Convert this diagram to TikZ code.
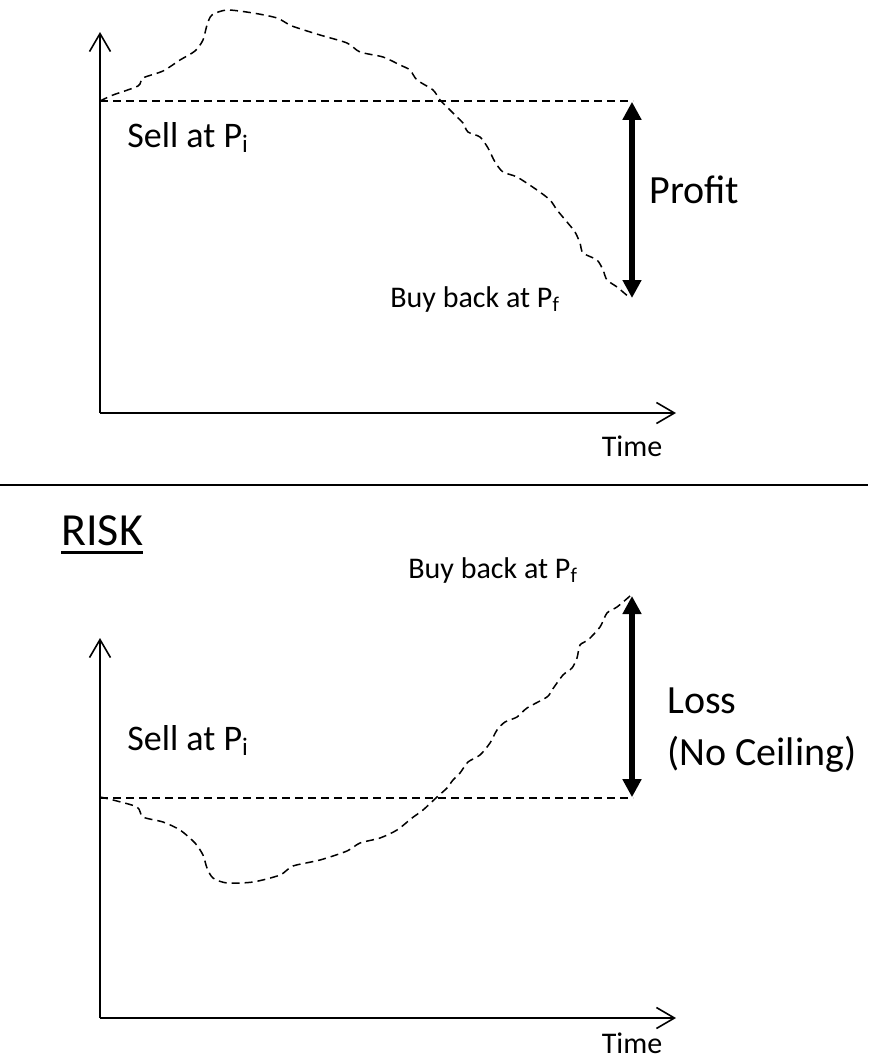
\documentclass[tikz,border=0pt]{standalone}
\usepackage{fontspec}
\setmainfont{Carlito}
\usetikzlibrary{arrows.meta,positioning}

\begin{document}
\begin{tikzpicture}[x=0.5pt, y=-0.5pt,
    axis/.style={line width=1pt, -{Straight Barb[length=9pt,width=10.5pt,line width=0.8pt]}},
    level/.style={dash pattern=on 4pt off 2.5pt, line width=0.75pt},
    price/.style={level, line join=round},
    swing/.style={line width=3pt, {Triangle[length=9pt,width=9pt]}-{Triangle[length=9pt,width=9pt]}},
    lbl/.style={inner sep=0pt, anchor=base west},
    big/.style={lbl, font=\fontsize{18}{22}\selectfont},
    small/.style={lbl, font=\fontsize{15}{18}\selectfont},
    huge/.style={lbl, font=\fontsize{20}{24}\selectfont}]

  \useasboundingbox (0,0) rectangle (873,1060);

  %--- Top: profit case
  \coordinate (O1) at (100,413);
  \coordinate (Y1) at (100,32);
  \coordinate (X1) at (676,413);
  \coordinate (Pi1) at (100,101);
  \coordinate (Pe1) at (633,101);
  \coordinate (Pf1) at (632,298);

  \draw[axis] (O1) -- (Y1);
  \draw[axis] (O1) -- (X1);
  \draw[level] (Pi1) -- (Pe1);
  \draw[price] plot[smooth, tension=0.45] coordinates {
    (100,101) (113,95) (138,86) (143,78) (163,71) (180,60) (195,51)
    (203,40) (207,25) (212,15) (227,10) (253,13) (277,18) (292,26)
    (320,35) (347,43) (360,52) (383,57) (400,65) (410,70) (417,80)
    (433,90) (440,100) (447,107) (457,117) (463,123) (468,132) (480,137)
    (488,148) (495,162) (503,172) (517,177) (537,190) (550,200) (557,210)
    (567,222) (575,232) (580,243) (583,253) (597,260) (603,270) (607,280)
    (617,287) (630,298)};
  \draw[swing] ([yshift=-0.4pt]Pe1 -| Pf1) -- (Pf1);

  \node[big] (sell1) at (127,147) {Sell at P\textsubscript{i}};
  \node[small] (buy1) at (390,307) {Buy back at P\textsubscript{f}};
  \node[huge] (profit) at (649,203) {Profit};
  \node[small, anchor=base] (time1) at (632,456) {Time};

  %--- Separator
  \coordinate (SepL) at (0,485);
  \coordinate (SepR) at (868,485);
  \draw[line width=1.1pt] (SepL) -- (SepR);

  %--- Bottom: risk case
  \node[lbl, font=\fontsize{23}{28}\selectfont] (risk) at (61,545) {RISK};
  \draw[line width=1.3pt] ([yshift=-3.6pt]risk.base west) -- ([yshift=-3.6pt]risk.base east);

  \coordinate (O2) at (100,1018);
  \coordinate (Y2) at (100,638);
  \coordinate (X2) at (676,1018);
  \coordinate (Pi2) at (100,798);
  \coordinate (Pe2) at (633,798);
  \coordinate (Pf2) at (632,596);

  \draw[axis] (O2) -- (Y2);
  \draw[axis] (O2) -- (X2);
  \draw[level] (Pi2) -- (Pe2);
  \draw[price] plot[smooth, tension=0.45] coordinates {
    (100,797) (113,800) (137,807) (143,817) (163,822) (180,830) (195,843)
    (203,855) (207,868) (213,878) (227,883) (253,882) (280,875) (293,866)
    (320,860) (347,851) (360,843) (380,838) (397,830) (412,818) (423,810)
    (437,797) (447,788) (453,780) (460,773) (468,762) (480,755) (490,743)
    (497,730) (505,722) (517,717) (527,708) (547,697) (552,690) (563,675)
    (572,668) (577,658) (580,645) (588,640) (600,627) (607,613) (617,607)
    (630,596)};
  \draw[swing] (Pf2) -- ([yshift=0.4pt]Pe2 -| Pf2);

  \node[small] (buy2) at (408,578) {Buy back at P\textsubscript{f}};
  \node[big] (sell2) at (127,750) {Sell at P\textsubscript{i}};
  \node[huge] (loss) at (667,713) {Loss};
  \node[huge] (ceiling) at (667,765) {(No Ceiling)};
  \node[small, anchor=base] (time2) at (632,1053) {Time};

\end{tikzpicture}
\end{document}
